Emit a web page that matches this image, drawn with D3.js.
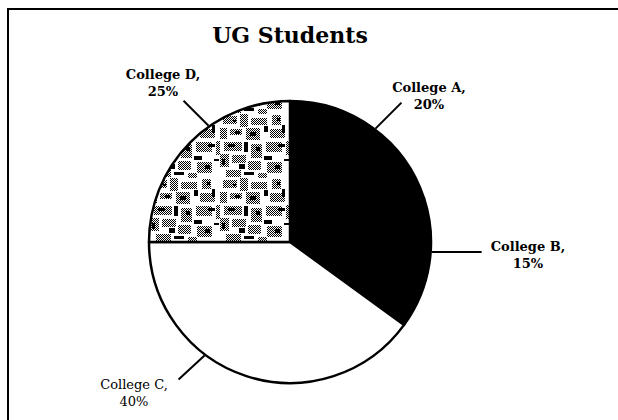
<!DOCTYPE html>
<html>
<head>
<meta charset="utf-8">
<style>
  body { margin: 0; background: #fff; overflow: hidden; }
  svg { display: block; }
  .title { font-family: "DejaVu Serif", serif; font-weight: bold; font-size: 22px; }
  .lbl { font-family: "DejaVu Serif", serif; font-weight: bold; font-size: 13px; }
</style>
<script src="https://cdn.jsdelivr.net/npm/d3@7"></script>
</head>
<body>
<script>
// chart data
var colleges = ["College A", "College B", "College C", "College D"];
var shares = [20, 15, 40, 25];
var chartTitle = "UG Students";

var W = 618, H = 420;
var cx = 290, cy = 242, R = 141;

// label placement: leader angle (deg), leader offset, text anchor
var labelLayout = [
  {ang: 37,  dx: 26,  dy: -26, tx: 429, ty: 92,  weight: "bold"},
  {ang: 94,  dx: 50,  dy: 0,   tx: 528, ty: 251, weight: "bold"},
  {ang: 217, dx: -26, dy: 24,  tx: 134, ty: 389, weight: "normal"},
  {ang: 325, dx: -25, dy: -25, tx: 163, ty: 79,  weight: "bold"}
];

var fills = ["#000", "#000", "#fff", "url(#speckle)"];

var svg = d3.select("body").append("svg")
  .attr("width", W).attr("height", H);

// speckled texture for College D
var defs = svg.append("defs");
var dots = defs.append("pattern").attr("id", "dots")
  .attr("width", 2).attr("height", 2).attr("patternUnits", "userSpaceOnUse");
dots.append("rect").attr("width", 2).attr("height", 2).attr("fill", "#fff");
dots.append("rect").attr("width", 1).attr("height", 1).attr("fill", "#000");
dots.append("rect").attr("x", 1).attr("y", 1).attr("width", 1).attr("height", 1).attr("fill", "#000");

var pat = defs.append("pattern").attr("id", "speckle")
  .attr("width", 70).attr("height", 64).attr("patternUnits", "userSpaceOnUse");
pat.append("rect").attr("width", 70).attr("height", 64).attr("fill", "#fff");
// blocks: [x, y, w, h, kind] 0 = grey dots, 1 = black
var blocks = [
  [3,2,14,8,0],[20,0,8,13,0],[31,4,16,7,0],[52,1,9,10,0],[44,12,4,6,1],
  [0,14,7,11,0],[10,15,12,6,0],[15,17,5,3,1],[26,14,14,12,0],[30,18,6,4,1],
  [50,15,15,9,0],[62,11,3,8,1],[4,28,18,9,0],[8,30,7,3,1],[24,28,4,10,1],
  [31,30,11,14,0],[36,33,4,4,1],[46,28,16,10,0],[58,30,7,3,1],[66,27,4,14,0],
  [0,40,9,13,0],[2,45,3,6,1],[12,41,14,8,0],[19,50,6,5,1],[28,47,13,9,0],
  [44,42,8,4,1],[47,48,15,11,0],[55,51,5,4,1],[6,56,15,7,0],[24,58,10,3,1],
  [38,59,9,5,0],[64,45,5,2,1],[13,6,3,2,1],[57,4,3,3,1]
];
blocks.forEach(function(b) {
  pat.append("rect").attr("x", b[0]).attr("y", b[1])
    .attr("width", b[2]).attr("height", b[3])
    .attr("fill", b[4] ? "#000" : "url(#dots)");
});

// frame
svg.append("path")
  .attr("d", "M8,420 V9 H618")
  .attr("fill", "none").attr("stroke", "#000").attr("stroke-width", 2);

svg.append("text").attr("class", "title")
  .attr("x", 290).attr("y", 43).attr("text-anchor", "middle")
  .text(chartTitle);

var pie = d3.pie().sort(null).value(function(d) { return d; });
var arcs = pie(shares);
var arc = d3.arc().innerRadius(0).outerRadius(R);

var g = svg.append("g").attr("transform", "translate(" + cx + "," + cy + ")");
g.selectAll("path.slice").data(arcs).enter().append("path")
  .attr("class", "slice")
  .attr("d", arc)
  .attr("fill", function(d, i) { return fills[i]; })
  .attr("stroke", "#000").attr("stroke-width", 2.5)
  .attr("stroke-linejoin", "round");

// leaders and labels
var lab = svg.append("g");
colleges.forEach(function(name, i) {
  var L = labelLayout[i];
  var a = L.ang * Math.PI / 180;
  var x0 = cx + (R + 1) * Math.sin(a), y0 = cy - (R + 1) * Math.cos(a);
  lab.append("line")
    .attr("x1", x0).attr("y1", y0)
    .attr("x2", x0 + L.dx).attr("y2", y0 + L.dy)
    .attr("stroke", "#000").attr("stroke-width", 2);
  var t = lab.append("text").attr("class", "lbl")
    .attr("text-anchor", "middle")
    .style("font-weight", L.weight);
  t.append("tspan").attr("x", L.tx).attr("y", L.ty).text(name + ",");
  t.append("tspan").attr("x", L.tx).attr("y", L.ty + 17).text(shares[i] + "%");
});
</script>
</body>
</html>
